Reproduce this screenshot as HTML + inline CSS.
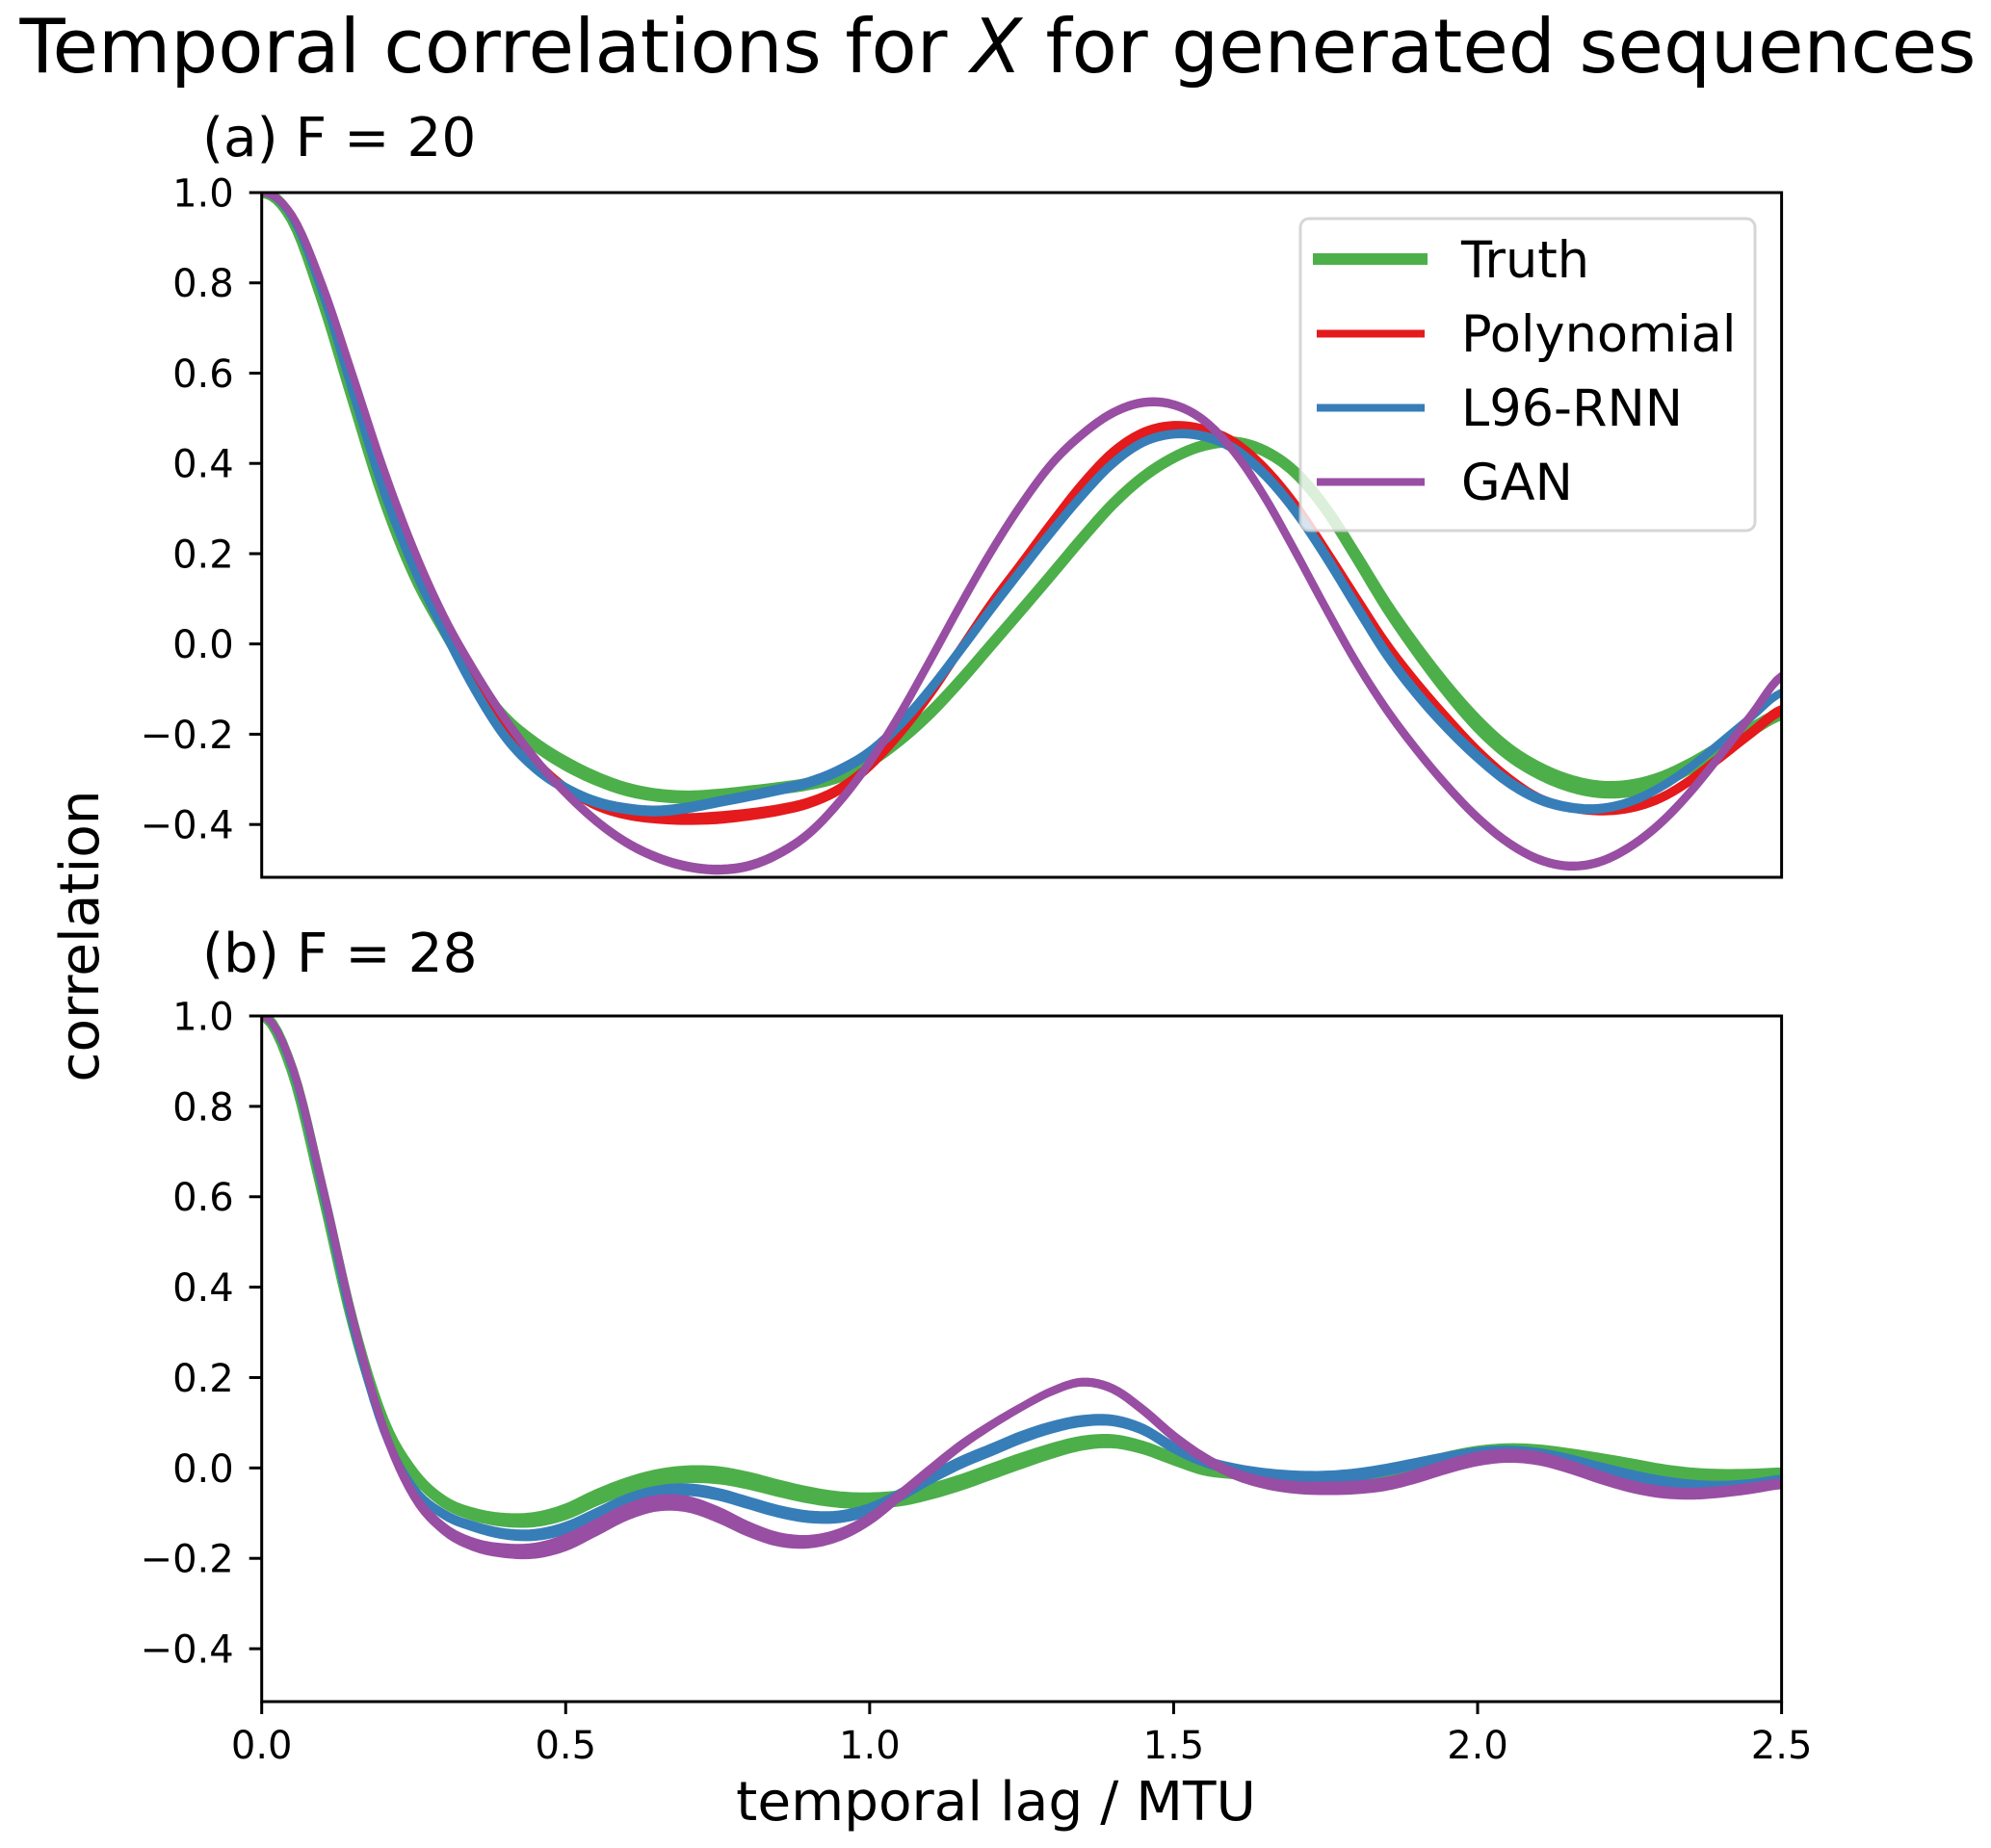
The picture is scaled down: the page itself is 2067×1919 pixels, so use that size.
<!DOCTYPE html>
<html lang="en">
<head>
<meta charset="utf-8">
<title>Temporal correlations for X for generated sequences</title>
<style>
html,body{margin:0;padding:0;background:#fff;}
svg{display:block;font-family:"DejaVu Sans","Liberation Sans",sans-serif;}
</style>
</head>
<body>
<svg id="fig" xmlns="http://www.w3.org/2000/svg" width="2067" height="1919" viewBox="0 0 2067 1919">
  <rect x="0" y="0" width="2067" height="1919" fill="#ffffff"/>
  <text x="1036" y="75" font-size="77.2" text-anchor="middle" fill="#000">Temporal correlations for <tspan font-style="italic">X</tspan> for generated sequences</text>
  <text x="210" y="162" font-size="56.5" fill="#000">(a) F = 20</text>
  <text x="210" y="1009" font-size="56.5" fill="#000">(b) F = 28</text>
  <text transform="translate(102,972) rotate(-90)" font-size="56.5" text-anchor="middle" fill="#000">correlation</text>
  <text x="1034" y="1890" font-size="56.5" text-anchor="middle" fill="#000">temporal lag / MTU</text>
  <defs>
    <clipPath id="clip-a"><rect x="271.7" y="200" width="1578" height="711"/></clipPath>
    <clipPath id="clip-b"><rect x="271.7" y="1055" width="1578" height="712"/></clipPath>
  </defs>
  <g id="panel-a"></g>
  <g id="panel-b"></g>
  <g id="legend">
    <rect x="1350" y="227" width="472" height="324" rx="9" ry="9" fill="#ffffff" fill-opacity="0.8" stroke="#cccccc" stroke-opacity="0.8" stroke-width="3"/>
    <line x1="1363" x2="1482" y1="269" y2="269" stroke="#4daf4a" stroke-width="12"/>
    <text x="1517" y="288" font-size="52.5" fill="#000">Truth</text>
    <line x1="1367" x2="1479" y1="346.5" y2="346.5" stroke="#e41a1c" stroke-width="8"/>
    <text x="1517" y="365" font-size="52.5" fill="#000">Polynomial</text>
    <line x1="1367" x2="1479" y1="423.5" y2="423.5" stroke="#377eb8" stroke-width="8"/>
    <text x="1517" y="442" font-size="52.5" fill="#000">L96-RNN</text>
    <line x1="1367" x2="1479" y1="500.5" y2="500.5" stroke="#984ea3" stroke-width="8"/>
    <text x="1517" y="519" font-size="52.5" fill="#000">GAN</text>
  </g>
</svg>
<script>
// ---- chart data ----
const lags = [0,0.05,0.1,0.15,0.2,0.25,0.3,0.35,0.4,0.45,0.5,0.55,0.6,0.65,0.7,0.75,0.8,0.85,0.9,0.95,1,1.05,1.1,1.15,1.2,1.25,1.3,1.35,1.4,1.45,1.5,1.55,1.6,1.65,1.7,1.75,1.8,1.85,1.9,1.95,2,2.05,2.1,2.15,2.2,2.25,2.3,2.35,2.4,2.45,2.5];

const truthA = [1,.94,.76,.54,.325,.155,.03,-.08,-.165,-.222,-.265,-.298,-.322,-.335,-.339,-.335,-.328,-.32,-.31,-.293,-.26,-.212,-.152,-.08,-.002,.076,.155,.235,.31,.37,.413,.44,.447,.427,.38,.30,.195,.085,-.012,-.1,-.177,-.238,-.28,-.308,-.322,-.32,-.302,-.27,-.23,-.19,-.155];
const polynomialA = [1,.947,.785,.58,.36,.19,.045,-.08,-.18,-.258,-.318,-.358,-.378,-.386,-.388,-.385,-.378,-.368,-.352,-.322,-.27,-.197,-.11,-.01,.09,.18,.27,.355,.425,.468,.483,.475,.447,.39,.31,.21,.105,.002,-.085,-.163,-.235,-.295,-.34,-.362,-.37,-.364,-.342,-.302,-.25,-.197,-.147];
const l96A = [1,.945,.775,.555,.34,.168,.028,-.10,-.205,-.275,-.32,-.35,-.365,-.37,-.363,-.35,-.337,-.323,-.307,-.28,-.24,-.178,-.10,-.012,.078,.165,.25,.33,.40,.447,.465,.46,.432,.375,.295,.195,.085,-.022,-.11,-.185,-.25,-.305,-.343,-.362,-.365,-.35,-.318,-.273,-.218,-.162,-.108];
const ganA = [1,.95,.795,.595,.39,.21,.06,-.06,-.165,-.255,-.33,-.392,-.44,-.473,-.493,-.5,-.492,-.465,-.42,-.35,-.262,-.155,-.035,.088,.205,.31,.40,.465,.512,.535,.53,.495,.425,.325,.205,.08,-.04,-.145,-.235,-.315,-.385,-.44,-.477,-.492,-.483,-.45,-.398,-.328,-.245,-.158,-.072];

const truthB = [1,.88,.61,.32,.105,-.012,-.075,-.103,-.115,-.114,-.097,-.066,-.04,-.022,-.014,-.016,-.028,-.045,-.06,-.07,-.072,-.067,-.052,-.032,-.008,.016,.038,.055,.059,.045,.02,-.003,-.012,-.018,-.024,-.027,-.025,-.014,.006,.024,.037,.042,.039,.03,.019,.007,-.005,-.013,-.016,-.015,-.012];
const l96B = [1,.885,.615,.315,.085,-.045,-.103,-.13,-.146,-.148,-.133,-.103,-.072,-.053,-.048,-.058,-.077,-.096,-.108,-.108,-.092,-.06,-.022,.012,.04,.068,.09,.104,.105,.085,.045,.015,-.003,-.014,-.02,-.021,-.015,-.004,.01,.024,.035,.038,.032,.018,0,-.017,-.03,-.038,-.04,-.035,-.025];
const ganB = [1,.89,.625,.33,.09,-.06,-.135,-.17,-.183,-.183,-.165,-.132,-.098,-.078,-.08,-.103,-.135,-.158,-.163,-.148,-.113,-.06,-.004,.05,.095,.135,.17,.19,.175,.128,.07,.022,-.013,-.033,-.043,-.045,-.043,-.035,-.018,.003,.02,.027,.021,.003,-.02,-.04,-.053,-.057,-.053,-.045,-.035];

// extra vertical spread of each curve, at the lags listed in spreadLags
const spreadLags = [0,0.25,0.5,0.75,1,1.25,1.5,1.75,2,2.25,2.5];
const truthSpreadA = [0,0,.008,.004,.004,0,0,.002,.015,.015,.004];
const polynomialSpreadA = [0,.002,.002,.012,.006,.004,.006,.002,.002,.004,.008];
const l96SpreadA = [0,.006,.008,.008,.008,.006,.004,.01,.01,.004,.002];
const ganSpreadA = [0,.004,.004,.006,.004,.004,.004,.004,.004,.004,.004];
const truthSpreadB = [0,0,.012,.016,.012,.012,.004,0,0,.006,.002];
const l96SpreadB = [0,.004,.012,.012,.012,.012,.008,.014,.006,.012,.004];
const ganSpreadB = [0,.008,.022,.02,.01,.002,.006,.014,.016,.012,.008];

const xTickValues = [0,0.5,1,1.5,2,2.5];
const xTickLabels = ['0.0','0.5','1.0','1.5','2.0','2.5'];
const yTickValues = [1,0.8,0.6,0.4,0.2,0,-0.2,-0.4];
const yTickLabels = ['1.0','0.8','0.6','0.4','0.2','0.0','\u22120.2','\u22120.4'];

// ---- drawing ----
const NS = 'http://www.w3.org/2000/svg';
const LEFT = 271.7, RIGHT = 1849.6, X_MAX = 2.5, Y_MAX = 1, Y_MIN = -0.517;

function xScale(v){ return LEFT + (v / X_MAX) * (RIGHT - LEFT); }
function yScale(v, top, bottom){ return top + (Y_MAX - v) / (Y_MAX - Y_MIN) * (bottom - top); }

function spreadAt(lag, spread){
  for (let i = 0; i < spreadLags.length - 1; i++) {
    if (lag <= spreadLags[i + 1]) {
      const t = (lag - spreadLags[i]) / (spreadLags[i + 1] - spreadLags[i]);
      return spread[i] + t * (spread[i + 1] - spread[i]);
    }
  }
  return spread[spread.length - 1];
}

// Catmull-Rom sampling in value space for a smooth outline
function sampleCurve(values, offsetSign, spread){
  const out = [];
  const n = values.length;
  for (let i = 0; i < n - 1; i++) {
    const p0 = i === 0 ? values[1] : values[i - 1];
    const p1 = values[i], p2 = values[i + 1];
    const p3 = values[Math.min(i + 2, n - 1)];
    for (let k = 0; k < 6; k++) {
      const t = k / 6;
      const v = 0.5 * (2 * p1 + (p2 - p0) * t + (2 * p0 - 5 * p1 + 4 * p2 - p3) * t * t + (3 * p1 - p0 - 3 * p2 + p3) * t * t * t);
      const lag = lags[i] + t * (lags[i + 1] - lags[i]);
      out.push([lag, v + offsetSign * spreadAt(lag, spread) / 2]);
    }
  }
  out.push([lags[n - 1], values[n - 1] + offsetSign * spreadAt(lags[n - 1], spread) / 2]);
  return out;
}

function toPath(points, top, bottom){
  return points.map(function(p, i){
    return (i ? 'L' : 'M') + xScale(p[0]).toFixed(2) + ' ' + yScale(p[1], top, bottom).toFixed(2);
  }).join('');
}

function drawSeries(group, values, spread, color, width, top, bottom, name){
  const upper = sampleCurve(values, 1, spread);
  const lower = sampleCurve(values, -1, spread);
  const center = sampleCurve(values, 0, spread);

  const band = document.createElementNS(NS, 'path');
  
  
  band.setAttribute('d', toPath(upper.concat(lower.slice().reverse()), top, bottom) + 'Z');
  band.setAttribute('fill', color);
  band.setAttribute('stroke', color);
  band.setAttribute('stroke-width', width);
  band.setAttribute('stroke-linejoin', 'round');
  group.appendChild(band);

  const line = document.createElementNS(NS, 'path');
  
  
  line.setAttribute('d', toPath(center, top, bottom));
  line.setAttribute('fill', 'none');
  line.setAttribute('stroke', color);
  line.setAttribute('stroke-width', width);
  group.appendChild(line);
}

function drawPanel(panelId, clipId, top, bottom, series, showXTicks){
  const panel = document.getElementById(panelId);

  const clipped = document.createElementNS(NS, 'g');
  
  
  clipped.setAttribute('clip-path', 'url(#' + clipId + ')');
  panel.appendChild(clipped);
  series.forEach(function(s){
    drawSeries(clipped, s.values, s.spread, s.color, s.width, top, bottom, panelId + '-' + s.name);
  });

  const frame = document.createElementNS(NS, 'rect');
  
  
  frame.setAttribute('x', LEFT);
  frame.setAttribute('y', top);
  frame.setAttribute('width', RIGHT - LEFT);
  frame.setAttribute('height', bottom - top);
  frame.setAttribute('fill', 'none');
  frame.setAttribute('stroke', '#000');
  frame.setAttribute('stroke-width', '3');
  panel.appendChild(frame);

  yTickValues.forEach(function(v, i){
    const y = yScale(v, top, bottom);
    const tick = document.createElementNS(NS, 'line');
    
    
    tick.setAttribute('x1', LEFT - 13);
    tick.setAttribute('x2', LEFT);
    tick.setAttribute('y1', y);
    tick.setAttribute('y2', y);
    tick.setAttribute('stroke', '#000');
    tick.setAttribute('stroke-width', '3');
    panel.appendChild(tick);

    const label = document.createElementNS(NS, 'text');
    
    
    label.setAttribute('x', LEFT - 29);
    label.setAttribute('y', y + 14.5);
    label.setAttribute('font-size', '40');
    label.setAttribute('text-anchor', 'end');
    label.textContent = yTickLabels[i];
    panel.appendChild(label);
  });

  if (showXTicks) {
    xTickValues.forEach(function(v, i){
      const x = xScale(v);
      const tick = document.createElementNS(NS, 'line');
      
      
      tick.setAttribute('x1', x);
      tick.setAttribute('x2', x);
      tick.setAttribute('y1', bottom);
      tick.setAttribute('y2', bottom + 13);
      tick.setAttribute('stroke', '#000');
      tick.setAttribute('stroke-width', '3');
      panel.appendChild(tick);

      const label = document.createElementNS(NS, 'text');
      
      
      label.setAttribute('x', x);
      label.setAttribute('y', 1826);
      label.setAttribute('font-size', '40');
      label.setAttribute('text-anchor', 'middle');
      label.textContent = xTickLabels[i];
      panel.appendChild(label);
    });
  }
}

drawPanel('panel-a', 'clip-a', 200, 911, [
  {name:'truth', values:truthA, spread:truthSpreadA, color:'#4daf4a', width:11.25},
  {name:'polynomial', values:polynomialA, spread:polynomialSpreadA, color:'#e41a1c', width:7.5},
  {name:'l96-rnn', values:l96A, spread:l96SpreadA, color:'#377eb8', width:7.5},
  {name:'gan', values:ganA, spread:ganSpreadA, color:'#984ea3', width:7.5}
], false);

drawPanel('panel-b', 'clip-b', 1055, 1767, [
  {name:'truth', values:truthB, spread:truthSpreadB, color:'#4daf4a', width:11.25},
  {name:'l96-rnn', values:l96B, spread:l96SpreadB, color:'#377eb8', width:7.5},
  {name:'gan', values:ganB, spread:ganSpreadB, color:'#984ea3', width:7.5}
], true);
</script>
</body>
</html>
